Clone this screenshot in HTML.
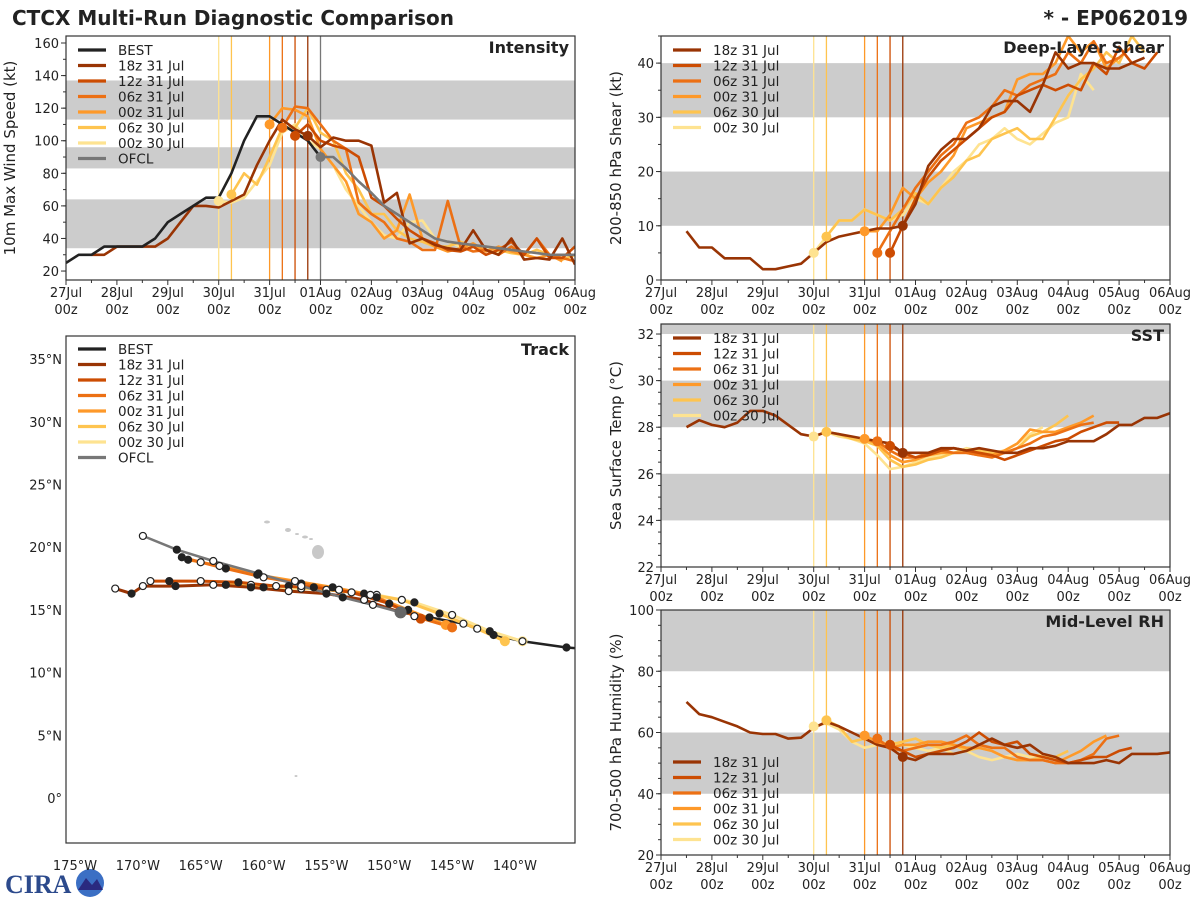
<!DOCTYPE html>
<html><head><meta charset="utf-8"><style>
html,body{margin:0;padding:0;background:#fff;}
svg{display:block;font-family:"DejaVu Sans","Liberation Sans",sans-serif;}
</style></head><body>
<svg id="c" width="1200" height="900" viewBox="0 0 1200 900" xmlns="http://www.w3.org/2000/svg">
<text x="12" y="25" font-size="20" font-weight="bold" fill="#222">CTCX Multi-Run Diagnostic Comparison</text>
<text x="1188" y="25" font-size="20" font-weight="bold" fill="#222" text-anchor="end">* - EP062019</text>
<g>
<text x="5" y="893" font-size="26" font-weight="bold" fill="#2c4a8c" font-family="Liberation Serif, serif">CIRA</text>
<circle cx="90" cy="883" r="14" fill="#3b6fc4"/>
<path d="M78 890 L86 878 L92 885 L97 879 L103 890 Z" fill="#2a2a80"/>
</g>
</svg>
<script>
const NS='http://www.w3.org/2000/svg';
const svg=document.getElementById('c');
function mk(tag,attrs,parent){const e=document.createElementNS(NS,tag);for(const k in attrs)e.setAttribute(k,attrs[k]);(parent||svg).appendChild(e);return e;}

// ---------- data ----------
const runNames=['18z 31 Jul','12z 31 Jul','06z 31 Jul','00z 31 Jul','06z 30 Jul','00z 30 Jul'];
const runColors=['#993404','#cc4c02','#ec7014','#fe9929','#fec44f','#fee391'];
const runInitHours=[114,108,102,96,78,72];
const runStartHours=[12,108,102,96,78,72];
const dayLabels=['27Jul','28Jul','29Jul','30Jul','31Jul','01Aug','02Aug','03Aug','04Aug','05Aug','06Aug'];

const bestStart=0;
const bestVmax=[25,30,30,35,35,35,35,40,50,55,60,65,65,80,100,115,115,110,105,100,90];
const ofclStart=120;
const ofclVmax=[90,90,83,75,68,60,55,50,45,40,38,37,36,35,34,33,32,31,30,30,30];

const vmax18=[30,30,35,35,35,35,40,50,60,60,59,63,67,85,100,113,107,103,96,102,100,100,97,62,68,37,40,36,34,33,45,33,30,40,27,28,27,40,24];
const vmax12=[103,110,100,97,95,90,65,60,52,45,40,37,33,32,35,30,33,38,30,40,28,28,35,30,38,25];
const vmax06=[108,121,120,110,100,95,62,55,50,40,38,33,33,63,35,32,33,30,35,30,40,30,28,26,35,30];
const vmax00=[110,120,119,115,95,85,75,55,50,40,45,67,40,35,32,34,37,32,35,32,30,28,30,26];
const vmax06b=[67,80,73,90,108,108,120,105,100,80,70,55,55,45,40,38,35,35,38,35,35,33,31,30,33,30,27,30];
const vmax00b=[63,62,65,75,85,105,110,100,95,85,70,60,50,42,40,50,51,40,38,35,35,33,32,32,30,28,30];
const vmaxRuns=[vmax18,vmax12,vmax06,vmax00,vmax06b,vmax00b];

const shr18=[9,6,6,4,4,4,2,2,2.5,3,5,7,8,8.5,9,9.5,9.5,10,14,21,24,26,26,28,32,33,33,31,36,42,39,40,40,39,39,40,41];
const shr12=[5,10,15,19,22,24,26,28,30,31,34,35,36,35,36,35,40,38,43,40,39,42];
const shr06=[5,9,13,17,20,23,25,29,30,32,35,34,36,37,38,42,40,44,40,41,43];
const shr00=[9,9,12,17,15,18,20,23,28,29,30,31,37,38,38,40,45,42,44,39,41];
const shr06b=[8,11,11,13,12,11,13,16,14,17,19,22,23,26,27,28,26,26,30,34,37,39,42,40,45,42];
const shr00b=[5,8,11,11,13,12,11,12,15,14,17,20,22,25,26,28,26,25,27,29,30,38,35];
const shrRuns=[shr18,shr12,shr06,shr00,shr06b,shr00b];

const sst18=[28.0,28.3,28.1,28.0,28.2,28.7,28.7,28.5,28.1,27.7,27.6,27.8,27.7,27.6,27.5,27.4,27.3,26.9,26.9,26.9,27.1,27.1,27.0,27.1,27.0,26.9,26.9,27.1,27.1,27.2,27.4,27.4,27.4,27.7,28.1,28.1,28.4,28.4,28.6];
const sst12=[27.2,26.9,26.7,26.8,27.0,27.1,27.0,26.9,26.8,26.6,26.8,27.0,27.2,27.4,27.5,27.8,28.0,28.2,28.2];
const sst06=[27.4,27.0,26.7,26.7,26.9,27.0,26.9,26.9,26.8,26.7,26.9,27.1,27.3,27.6,27.7,27.9,28.1,28.2];
const sst00=[27.5,27.3,26.8,26.5,26.6,26.8,26.9,26.9,26.9,26.8,26.8,27.0,27.3,27.9,27.8,27.8,28.0,28.2,28.5];
const sst06b=[27.8,27.7,27.5,27.4,27.2,26.6,26.3,26.4,26.6,26.7,26.9,27.0,27.0,26.9,26.9,27.1,27.6,27.8,28.1,28.5];
const sst00b=[27.6,27.8,27.6,27.5,27.3,26.8,26.2,26.3,26.5,26.7,26.8,26.9,27.1,27.0,26.9,27.0,27.3,27.7,28.0];
const sstRuns=[sst18,sst12,sst06,sst00,sst06b,sst00b];

const rh18=[70,66,65,63.5,62,60,59.5,59.5,58,58.3,61.5,63.5,62,60,58,56,55,52,51,53,53,53,54,56,58,56,55,56,53,52,50,50,50,51,50,53,53,53,53.5];
const rh12=[56,54,52,53,54,55,57,60,57,56,57,53,52,51,50,51,52,52,54,55];
const rh06=[58,55,54,55,56,56,57,59,56,55,55,52,51,51,50,50,51,53,58,59];
const rh00=[59,57,55,56,56,57,57,56,55,55,54,52,51,51,51,50,52,54,57,59];
const rh06b=[64,62,57,58,56,56,57,58,56,55,56,54,55,54,52,51,51,52,52,54];
const rh00b=[62,63,61,57,55,56,57,56,55,54,55,53,54,52,51,52,53,52,53];
const rhRuns=[rh18,rh12,rh06,rh00,rh06b,rh00b];

// track data (lon negative = W)
const bestLon=[-149.1,-146.8,-144.1,-141.7,-139.4,-135.9,-134.5];
const bestLat=[14.8,14.4,13.9,13.0,12.5,12.0,11.9];
const ofclLon=[-149.1,-151.3,-153.7,-157.0,-160.4,-164.0,-166.9,-169.6];
const ofclLat=[14.8,15.4,16.0,16.9,17.9,18.9,19.8,20.9];
const trkLon18=[-149.1,-152,-155,-158,-161,-164,-167,-169.6,-170.5,-171.8];
const trkLat18=[14.8,15.8,16.3,16.5,16.8,17.0,16.9,16.9,16.3,16.7];
const trkLon12=[-147.5,-150,-153,-156,-159,-162,-165,-167.5,-169];
const trkLat12=[14.3,15.5,16.4,16.8,16.9,17.2,17.3,17.3,17.3];
const trkLon06=[-145,-148,-151,-154,-157,-160,-163,-165,-166.5];
const trkLat06=[13.6,14.5,16.0,16.6,17.1,17.6,18.3,18.8,19.2];
const trkLon00=[-145.5,-148.5,-151.5,-154.5,-157.5,-160.5,-163.5,-166];
const trkLat00=[13.8,15.0,16.2,16.8,17.3,17.8,18.5,19.0];
const trkLon06b=[-140.8,-143,-146,-149,-152,-155,-158,-161,-163];
const trkLat06b=[12.5,13.5,14.7,15.8,16.3,16.6,16.9,17.0,17.0];
const trkLon00b=[-139.4,-142,-145,-148,-151,-154,-157,-160];
const trkLat00b=[12.5,13.3,14.6,15.6,16.2,16.6,16.7,16.8];
const trkLons=[trkLon18,trkLon12,trkLon06,trkLon00,trkLon06b,trkLon00b];
const trkLats=[trkLat18,trkLat12,trkLat06,trkLat00,trkLat06b,trkLat00b];

// ---------- helpers ----------
function timePanel(o){
  const g=mk('g',{});
  
  
  const sx=h=>o.x0+(h/240)*(o.x1-o.x0);
  const sy=v=>o.y1-(v-o.ymin)/(o.ymax-o.ymin)*(o.y1-o.y0);
  const clip='clip-'+o.name;
  const cp=mk('clipPath',{id:clip},g);mk('rect',{x:o.x0,y:o.y0,width:o.x1-o.x0,height:o.y1-o.y0},cp);
  const inner=mk('g',{'clip-path':'url(#'+clip+')'},g);
  o.bands.forEach(b=>{const r=mk('rect',{x:o.x0,y:sy(b[1]),width:o.x1-o.x0,height:sy(b[0])-sy(b[1]),fill:'#cccccc'},inner);
    
    });
  o.vlines.forEach(v=>{const l=mk('line',{x1:sx(v[0]),x2:sx(v[0]),y1:o.y0,y2:o.y1,stroke:v[1],'stroke-width':1.3},inner);
    
    });
  mk('rect',{x:o.x0,y:o.y0,width:o.x1-o.x0,height:o.y1-o.y0,fill:'none',stroke:'#333','stroke-width':1.2},g);
  for(let d=0;d<=10;d++){
    const x=sx(d*24);
    mk('line',{x1:x,x2:x,y1:o.y1,y2:o.y1+5,stroke:'#333'},g);
    if(d<10)mk('line',{x1:sx(d*24+12),x2:sx(d*24+12),y1:o.y1,y2:o.y1+3,stroke:'#333'},g);
    const t=mk('text',{x:x,y:o.y1+17,'font-size':13,'text-anchor':'middle',fill:'#222'},g);t.textContent=dayLabels[d];
    
    
    const t2=mk('text',{x:x,y:o.y1+34,'font-size':13,'text-anchor':'middle',fill:'#222'},g);t2.textContent='00z';
  }
  for(let v=o.ymin0;v<=o.ymax;v+=o.ystep){
    const y=sy(v);
    mk('line',{x1:o.x0-5,x2:o.x0,y1:y,y2:y,stroke:'#333'},g);
    const t=mk('text',{x:o.x0-7,y:y+5,'font-size':13,'text-anchor':'end',fill:'#222'},g);t.textContent=o.tickFmt(v);
    
    
  }
  for(let v=o.ymin0;v<=o.ymax;v+=o.minor){const y=sy(v);if(y>=o.y0&&y<=o.y1)mk('line',{x1:o.x0-3,x2:o.x0,y1:y,y2:y,stroke:'#333'},g);}
  const yt=mk('text',{x:0,y:0,'font-size':15,'text-anchor':'middle',fill:'#222',transform:`translate(${o.ylx},${(o.y0+o.y1)/2}) rotate(-90)`},g);
  yt.textContent=o.ylabel;
  
  
  const tt=mk('text',{x:o.x1-6,y:o.y0+17,'font-size':16,'font-weight':'bold','text-anchor':'end',fill:'#222'},g);tt.textContent=o.title;
  
  
  return {g,inner,sx,sy};
}
function series(p,start,vals,color,name,w){
  const pts=vals.map((v,i)=>p.sx(start+i*6).toFixed(1)+','+p.sy(v).toFixed(1)).join(' ');
  const l=mk('polyline',{points:pts,fill:'none',stroke:color,'stroke-width':w||2.6,'stroke-linejoin':'round'},p.inner);
  
  
}
function dot(p,h,v,color,r){
  const c=mk('circle',{cx:p.sx(h),cy:p.sy(v),r:r||5,fill:color},p.inner);
  
  
}
function legend(x,y,entries){
  const g=mk('g',{});
  
  
  entries.forEach((e,i)=>{
    const yy=y+i*15.5;
    mk('line',{x1:x,x2:x+28,y1:yy,y2:yy,stroke:e[1],'stroke-width':3.2},g);
    const t=mk('text',{x:x+40,y:yy+5,'font-size':13.5,fill:'#222'},g);t.textContent=e[0];
    
    
  });
}
const vl=runInitHours.map((h,i)=>[h,runColors[i]]).reverse();

// ---------- intensity ----------
const pI=timePanel({name:'intensity-panel',x0:66,x1:575,y0:36,y1:280,ymin:14.5,ymax:164.3,ymin0:20,ystep:20,minor:10,
  bands:[[34,64],[83,96],[113,137]],vlines:vl.concat([[120,'#777777']]),tickFmt:v=>v,ylabel:'10m Max Wind Speed (kt)',ylx:15,title:'Intensity'});
for(let i=5;i>=0;i--){series(pI,runStartHours[i],vmaxRuns[i],runColors[i],'intensity-line-'+i);}
series(pI,bestStart,bestVmax,'#222222','best-intensity-line');
series(pI,ofclStart,ofclVmax,'#777777','ofcl-intensity-line');
for(let i=5;i>=0;i--){const h=runInitHours[i];dot(pI,h,vmaxRuns[i][(h-runStartHours[i])/6],runColors[i]);}
dot(pI,120,90,'#777777');
legend(78,50,[['BEST','#222222']].concat(runNames.map((n,i)=>[n,runColors[i]])).concat([['OFCL','#777777']]));

// ---------- shear ----------
const pS=timePanel({name:'shear-panel',x0:661,x1:1170,y0:36,y1:280,ymin:0,ymax:45,ymin0:0,ystep:10,minor:5,
  bands:[[10,20],[30,40]],vlines:vl,tickFmt:v=>v,ylabel:'200-850 hPa Shear (kt)',ylx:621,title:'Deep-Layer Shear'});
for(let i=5;i>=0;i--){series(pS,(i==0?12:runInitHours[i]),shrRuns[i],runColors[i],'shear-line-'+i);}
for(let i=5;i>=0;i--){const h=runInitHours[i];const st=(i==0?12:h);dot(pS,h,shrRuns[i][(h-st)/6],runColors[i]);}
legend(673,50,runNames.map((n,i)=>[n,runColors[i]]));

// ---------- SST ----------
const pT=timePanel({name:'sst-panel',x0:661,x1:1170,y0:324,y1:567,ymin:22,ymax:32.43,ymin0:22,ystep:2,minor:0.5,
  bands:[[24,26],[28,30],[32,33]],vlines:vl,tickFmt:v=>v,ylabel:'Sea Surface Temp (°C)',ylx:621,title:'SST'});
for(let i=5;i>=0;i--){series(pT,(i==0?12:runInitHours[i]),sstRuns[i],runColors[i],'sst-line-'+i);}
for(let i=5;i>=0;i--){const h=runInitHours[i];const st=(i==0?12:h);dot(pT,h,sstRuns[i][(h-st)/6],runColors[i]);}
legend(673,338,runNames.map((n,i)=>[n,runColors[i]]));

// ---------- RH ----------
const pR=timePanel({name:'rh-panel',x0:661,x1:1170,y0:610,y1:855,ymin:20,ymax:100,ymin0:20,ystep:20,minor:5,
  bands:[[40,60],[80,100]],vlines:vl,tickFmt:v=>v,ylabel:'700-500 hPa Humidity (%)',ylx:621,title:'Mid-Level RH'});
for(let i=5;i>=0;i--){series(pR,(i==0?12:runInitHours[i]),rhRuns[i],runColors[i],'rh-line-'+i);}
for(let i=5;i>=0;i--){const h=runInitHours[i];const st=(i==0?12:h);dot(pR,h,rhRuns[i][(h-st)/6],runColors[i]);}
legend(673,762,runNames.map((n,i)=>[n,runColors[i]]));

// ---------- track ----------
(function(){
  const x0=66,x1=575,y0=336,y1=843;
  const lx=lon=>75+(lon+175)*12.57;
  const ly=lat=>798-lat*12.54;
  const g=mk('g',{});
  
  
  const cp=mk('clipPath',{id:'clip-track'},g);mk('rect',{x:x0,y:y0,width:x1-x0,height:y1-y0},cp);
  const inner=mk('g',{'clip-path':'url(#clip-track)'},g);
  const isl=mk('g',{fill:'#c8c8c8'},inner);
  
  
  [[267,522,3,1.5],[288,530,3,2],[297,534,2,1],[305,537,3,1.5],[311,539,2,1],[318,552,6,7],[296,776,1.5,1]].forEach(e=>mk('ellipse',{cx:e[0],cy:e[1],rx:e[2],ry:e[3]},isl));
  function trk(lons,lats,color,name,w){
    const pts=lons.map((l,i)=>lx(l).toFixed(1)+','+ly(lats[i]).toFixed(1)).join(' ');
    const p=mk('polyline',{points:pts,fill:'none',stroke:color,'stroke-width':w||3,'stroke-linejoin':'round'},inner);
    
    
  }
  function marks(lons,lats,off,n){
    lons.forEach((l,i)=>{if(i==0||i>=n)return;
      const black=((i+off)%2==0);
      const c=mk('circle',{cx:lx(l),cy:ly(lats[i]),r:3.5,fill:black?'#222':'#fff',stroke:'#222','stroke-width':1.2},inner);
      
      
    });
  }
  trk(bestLon,bestLat,'#222','best-track',2.5);
  for(let i=5;i>=0;i--)trk(trkLons[i],trkLats[i],runColors[i],'track-line-'+i);
  trk(ofclLon,ofclLat,'#777','ofcl-track',2.5);
  for(let i=5;i>=0;i--){const c=mk('circle',{cx:lx(trkLons[i][0]),cy:ly(trkLats[i][0]),r:5,fill:runColors[i]},inner);
    
    }
  for(let i=5;i>=0;i--)marks(trkLons[i],trkLats[i],i,99);
  marks(bestLon,bestLat,1,6);
  marks(ofclLon,ofclLat,0,99);
  mk('circle',{cx:lx(-149.1),cy:ly(14.8),r:6,fill:'#666'},inner);
  mk('rect',{x:x0,y:y0,width:x1-x0,height:y1-y0,fill:'none',stroke:'#333','stroke-width':1.2},g);
  for(let lon=-175;lon<=-140;lon+=5){
    const t=mk('text',{x:lx(lon),y:870,'font-size':13,'text-anchor':'middle',fill:'#222'},g);t.textContent=(-lon)+'°W';
    
    }
  for(let lat=0;lat<=35;lat+=5){
    const t=mk('text',{x:62,y:ly(lat)+5,'font-size':13,'text-anchor':'end',fill:'#222'},g);t.textContent=lat==0?'0°':lat+'°N';
    
    }
  const tt=mk('text',{x:x1-6,y:y0+19,'font-size':16,'font-weight':'bold','text-anchor':'end',fill:'#222'},g);tt.textContent='Track';
  
  
})();
legend(78,349,[['BEST','#222222']].concat(runNames.map((n,i)=>[n,runColors[i]])).concat([['OFCL','#777777']]));
</script>
</body></html>
